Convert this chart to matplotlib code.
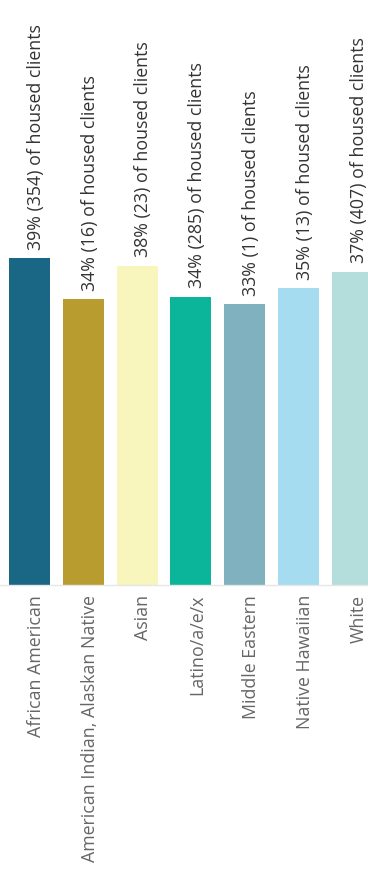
import matplotlib.pyplot as plt

plt.rcParams['font.family'] = ['Open Sans', 'DejaVu Sans']

# data
categories = ['African American', 'American Indian, Alaskan Native', 'Asian',
              'Latino/a/e/x', 'Middle Eastern', 'Native Hawaiian', 'White']
pct = [39.0, 34.1, 38.1, 34.4, 33.5, 35.4, 37.4]
pct_labels = ['39%', '34%', '38%', '34%', '33%', '35%', '37%']
counts = [354, 16, 23, 285, 1, 13, 407]
colors = ['#1a6685', '#b99c30', '#f8f6bd', '#0ab59a', '#7fb1bf', '#a6dcef', '#b3dedb']

fig = plt.figure(figsize=(3.68, 8.75), dpi=100)
ax = fig.add_axes([0, (875 - 585) / 875, 1, 585 / 875])

x = list(range(len(categories)))
bars = ax.bar(x, pct, width=0.76, color=colors)

ax.set_xlim(-0.548, 6.29)
ax.set_ylim(0, 69.8)

# value labels above the bars
for xi, v, p, n in zip(x, pct, pct_labels, counts):
    ax.annotate(f'{p} ({n}) of housed clients', (xi, v), xytext=(4.5, 6),
                textcoords='offset points', rotation=90, ha='center', va='bottom',
                fontsize=12.8, color='#333333')

# category labels under the axis
for xi, c in zip(x, categories):
    ax.annotate(c, (xi, 0), xytext=(4.5, -7), textcoords='offset points',
                rotation=90, ha='center', va='top', fontsize=12.8,
                color='#666666', annotation_clip=False)

ax.set_xticks([])
ax.set_yticks([])
for s in ['top', 'right', 'left']:
    ax.spines[s].set_visible(False)
ax.spines['bottom'].set_color('#e6e6e6')
ax.spines['bottom'].set_linewidth(1)

fig.savefig('out.png', dpi=100)
